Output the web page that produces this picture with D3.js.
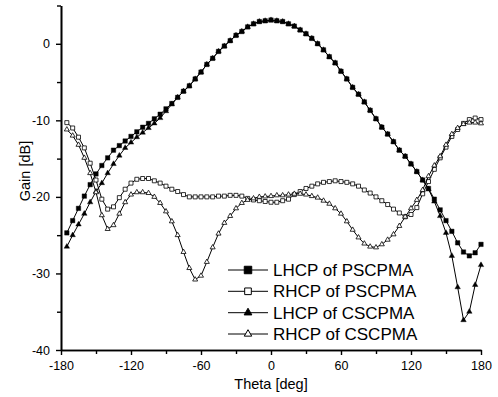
<!DOCTYPE html>
<html>
<head>
<meta charset="utf-8">
<script src="https://cdn.jsdelivr.net/npm/d3@7"></script>
<style>
  body { margin: 0; background: #fff; }
  svg { display: block; font-family: "Liberation Sans", Arial, sans-serif; }
</style>
</head>
<body>
<svg id="chart" width="498" height="397"></svg>
<script>
// angle samples [deg]
const theta = [-175,-170,-165,-160,-155,-150,-145,-140,-135,-130,-125,-120,-115,-110,-105,-100,-95,-90,-85,-80,-75,-70,-65,-60,-55,-50,-45,-40,-35,-30,-25,-20,-15,-10,-5,0,5,10,15,20,25,30,35,40,45,50,55,60,65,70,75,80,85,90,95,100,105,110,115,120,125,130,135,140,145,150,155,160,165,170,175,180];

const lhcpPSCPMA = [-24.7,-23.1,-21.5,-19.9,-18.4,-17.0,-15.9,-14.9,-13.9,-13.3,-12.7,-12.1,-11.5,-10.9,-10.4,-9.8,-9.2,-8.5,-7.8,-7.0,-6.2,-5.5,-4.6,-3.7,-2.7,-1.9,-1.0,-0.3,0.4,1.1,1.6,2.2,2.6,2.9,3.0,3.1,3.0,2.9,2.6,2.3,1.8,1.3,0.7,0.0,-0.8,-1.7,-2.5,-3.6,-4.6,-5.7,-6.6,-7.6,-8.7,-9.8,-10.9,-11.8,-12.8,-13.9,-14.7,-15.7,-16.7,-17.8,-18.9,-20.3,-21.7,-23.1,-24.5,-26.0,-27.2,-27.7,-27.3,-26.2];

const rhcpPSCPMA = [-10.3,-11.0,-12.2,-13.6,-15.6,-17.8,-20.3,-21.6,-21.3,-20.1,-19.0,-18.2,-17.7,-17.6,-17.6,-17.9,-18.2,-18.6,-19.0,-19.3,-19.7,-20.0,-20.0,-20.0,-20.0,-20.0,-19.9,-19.9,-19.8,-19.8,-19.9,-20.2,-20.4,-20.5,-20.6,-20.7,-20.7,-20.5,-20.3,-19.7,-19.3,-18.9,-18.6,-18.3,-18.1,-18.0,-17.9,-18.0,-18.1,-18.3,-18.6,-19.1,-19.5,-20.0,-20.5,-21.0,-21.6,-22.1,-22.6,-22.3,-21.4,-19.6,-18.0,-16.4,-14.9,-13.5,-12.1,-11.2,-10.4,-9.9,-9.7,-9.9];

const lhcpCSCPMA = [-26.5,-25.0,-23.6,-22.2,-20.7,-19.3,-18.2,-16.9,-15.7,-14.6,-13.6,-12.9,-12.2,-11.6,-11.0,-10.4,-9.7,-8.8,-7.9,-7.0,-6.2,-5.5,-4.6,-3.7,-2.7,-1.9,-1.0,-0.3,0.4,1.1,1.6,2.2,2.6,2.9,3.0,3.1,3.0,2.9,2.6,2.3,1.8,1.3,0.7,0.0,-0.8,-1.7,-2.5,-3.6,-4.6,-5.7,-6.6,-7.6,-8.7,-9.8,-10.9,-11.8,-12.8,-13.9,-14.7,-15.7,-16.7,-17.8,-19.0,-20.6,-22.5,-24.7,-27.7,-31.8,-36.1,-35.0,-31.5,-28.9];

const rhcpCSCPMA = [-11.2,-12.0,-13.2,-14.9,-16.9,-19.4,-22.4,-24.2,-23.7,-22.2,-20.7,-19.7,-19.4,-19.4,-19.5,-20.0,-20.8,-21.9,-23.2,-25.0,-27.2,-29.3,-30.8,-30.3,-28.5,-26.6,-24.8,-23.4,-22.5,-21.5,-20.8,-20.4,-20.2,-20.0,-19.95,-19.9,-19.8,-19.8,-19.7,-19.6,-19.6,-19.7,-19.9,-20.1,-20.5,-20.9,-21.5,-22.2,-23.2,-24.3,-25.3,-26.1,-26.5,-26.6,-26.2,-25.6,-24.9,-23.8,-22.6,-21.5,-20.4,-19.1,-17.3,-15.9,-14.7,-13.2,-11.8,-11.0,-10.5,-10.3,-10.3,-10.4];

const seriesNames = ["LHCP of PSCPMA", "RHCP of PSCPMA", "LHCP of CSCPMA", "RHCP of CSCPMA"];
const xMajor = [-180, -120, -60, 0, 60, 120, 180];
const xMinor = [-150, -90, -30, 30, 90, 150];
const yMajor = [-40, -30, -20, -10, 0];
const yMinor = [-35, -25, -15, -5, 5];

const svg = d3.select('#chart');
const plotLeft = 61, plotRight = 481, plotTop = 5.5, plotBottom = 350;

const x = d3.scaleLinear().domain([-180, 180]).range([plotLeft, plotRight]);
const y = d3.scaleLinear().domain([-40, 5]).range([plotBottom, plotTop]);

const series = [
	{ name: seriesNames[0], values: lhcpPSCPMA, shape: d3.symbolSquare, fill: '#000', size: 20, legendSize: 56 },
	{ name: seriesNames[1], values: rhcpPSCPMA, shape: d3.symbolSquare, fill: '#fff', size: 16, legendSize: 44 },
	{ name: seriesNames[2], values: lhcpCSCPMA, shape: d3.symbolTriangle, fill: '#000', size: 13, legendSize: 26 },
	{ name: seriesNames[3], values: rhcpCSCPMA, shape: d3.symbolTriangle, fill: '#fff', size: 11, legendSize: 24 },
];

const line = d3.line()
	.x((d, i) => x(theta[i]))
	.y(d => y(d));

// data
const plot = svg.append('g').classed('plot', true);
series.forEach(s => {
	plot.append('path')
		.attr('d', line(s.values))
		.attr('fill', 'none')
		.attr('stroke', '#000')
		.attr('stroke-width', 1);
	plot.append('g').selectAll('path')
		.data(s.values)
		.join('path')
		.attr('transform', (d, i) => `translate(${x(theta[i])},${y(d)})`)
		.attr('d', d3.symbol().type(s.shape).size(s.size))
		.attr('fill', s.fill)
		.attr('stroke', '#000')
		.attr('stroke-width', s.fill === '#fff' ? 0.8 : 0.4);
});

// axes
const fmt = d => String(d);
const styleAxis = g => {
	g.select('.domain').attr('stroke-width', 1.6);
	g.selectAll('.tick line').attr('stroke-width', 1.4);
	g.selectAll('text').attr('font-size', 12.5).attr('fill', '#000').attr('font-family', '"Liberation Sans", Arial, sans-serif');
};

svg.append('g')
	.attr('transform', `translate(0,${plotBottom})`)
	.call(d3.axisBottom(x).tickValues(xMinor).tickSize(4).tickSizeOuter(0).tickFormat(''))
	.call(styleAxis);
svg.append('g')
	.attr('transform', `translate(0,${plotBottom})`)
	.call(d3.axisBottom(x).tickValues(xMajor).tickSize(5).tickSizeOuter(0).tickPadding(6).tickFormat(fmt))
	.call(styleAxis);

svg.append('g')
	.attr('transform', `translate(${plotLeft},0)`)
	.call(d3.axisLeft(y).tickValues(yMinor).tickSize(4).tickSizeOuter(0).tickFormat(''))
	.call(styleAxis);
svg.append('g')
	.attr('transform', `translate(${plotLeft},0)`)
	.call(d3.axisLeft(y).tickValues(yMajor).tickSize(5).tickSizeOuter(0).tickPadding(6).tickFormat(fmt))
	.call(styleAxis);

// titles
svg.append('text')
	.attr('x', (plotLeft + plotRight) / 2)
	.attr('y', 389)
	.attr('text-anchor', 'middle')
	.attr('font-size', 14.5)
	.text('Theta [deg]');

svg.append('text')
	.attr('transform', `translate(30,171) rotate(-90)`)
	.attr('text-anchor', 'middle')
	.attr('font-size', 14.5)
	.text('Gain [dB]');

// legend
const legendRows = [270, 291.3, 312.7, 334];
const legend = svg.append('g').classed('legend', true);
series.forEach((s, i) => {
	const row = legend.append('g').attr('transform', `translate(0,${legendRows[i]})`);
	row.append('line')
		.attr('x1', 228).attr('x2', 268)
		.attr('stroke', '#000').attr('stroke-width', 1);
	row.append('path')
		.attr('transform', 'translate(248,0)')
		.attr('d', d3.symbol().type(s.shape).size(s.legendSize))
		.attr('fill', s.fill)
		.attr('stroke', '#000')
		.attr('stroke-width', 1);
	row.append('text')
		.attr('x', 273)
		.attr('y', 6)
		.attr('font-size', 17)
		.text(s.name);
});
</script>
</body>
</html>
